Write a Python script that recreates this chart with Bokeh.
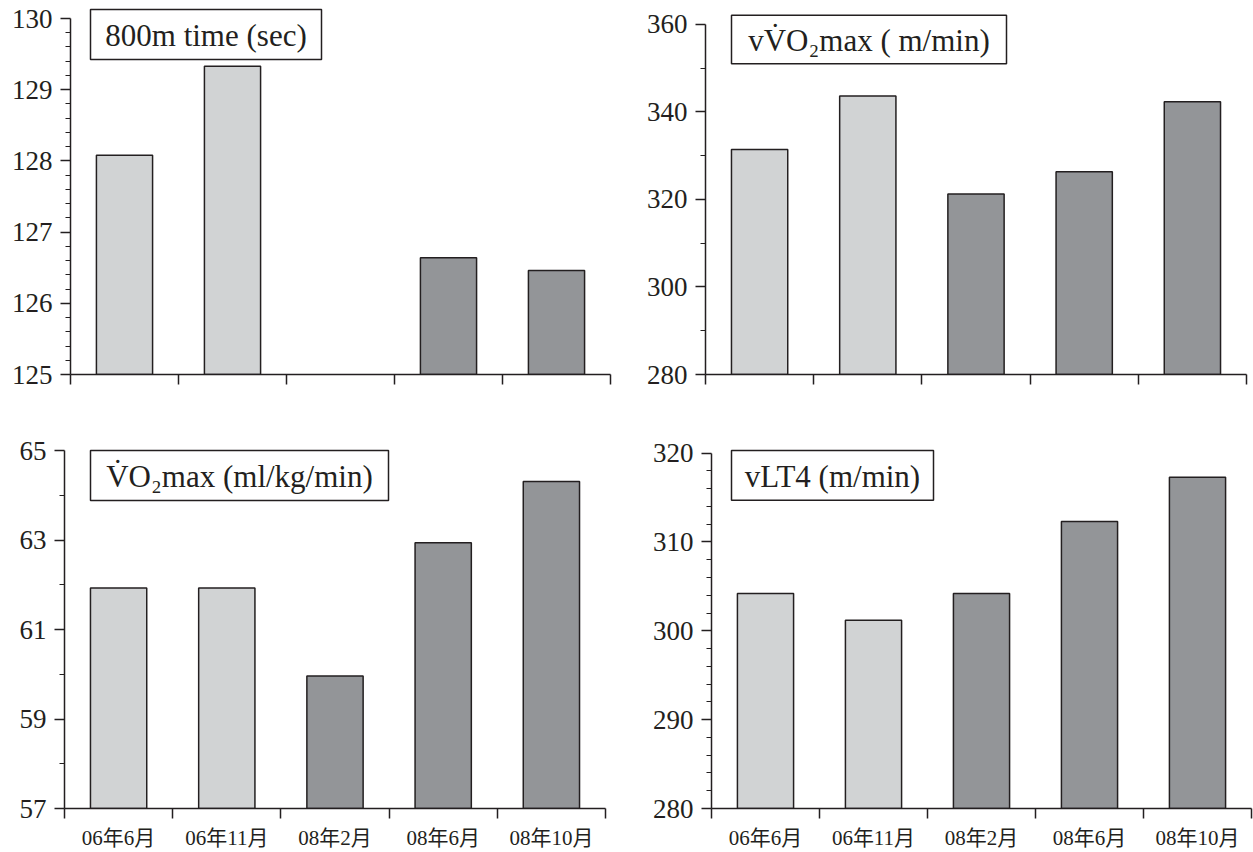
from bokeh.plotting import figure
from bokeh.models import Range1d, FixedTicker, BoxAnnotation, Label, ColumnDataSource
from bokeh.layouts import column, row
from bokeh.embed import file_html
from bokeh.resources import INLINE

# ---------------- data ----------------
periods = ["06年6月", "06年11月", "08年2月", "08年6月", "08年10月"]
time_800m = [128.08, 129.33, None, 126.64, 126.46]
vvo2max = [331.4, 343.6, 321.2, 326.3, 342.3]
vo2max = [61.93, 61.93, 59.96, 62.94, 64.31]
vlt4 = [304.2, 301.2, 304.2, 312.3, 317.3]

ticks_800m = [125, 126, 127, 128, 129, 130]
ticks_vvo2 = [280, 300, 320, 340, 360]
ticks_vo2 = [57, 59, 61, 63, 65]
ticks_vlt4 = [280, 290, 300, 310, 320]

title_800m = "800m time (sec)"
title_vvo2 = "vV\u0307O\u2082max ( m/min)"
title_vo2 = "V\u0307O\u2082max (ml/kg/min)"
title_vlt4 = "vLT4 (m/min)"

# ---------------- style ----------------
INK = "#231f20"
LIGHT = "#d1d3d4"
DARK = "#939598"
SERIF = "Liberation Serif, Noto Sans CJK JP"


def bar_color(label):
    return LIGHT if label.startswith("06") else DARK


def make_panel(values, title, ticks, minor, L, show_labels):
    lo, hi = ticks[0], ticks[-1]
    ox, oy, w, h = L["ox"], L["oy"], L["w"], L["h"]
    fl, fr, ft, fb = L["fl"], L["fr"], L["ft"], L["fb"]
    py_lo, py_hi = L["py_lo"], L["py_hi"]
    upp = (hi - lo) / (py_lo - py_hi)  # units per pixel
    y_start = lo - (fb - py_lo) * upp
    y_end = hi + (py_hi - ft) * upp
    n = len(periods)

    p = figure(width=w, height=h, output_backend="svg", toolbar_location=None,
               x_range=Range1d(0, n), y_range=Range1d(y_start, y_end),
               min_border_left=fl - ox, min_border_right=ox + w - fr,
               min_border_top=ft - oy, min_border_bottom=oy + h - fb)
    p.outline_line_color = None
    p.xgrid.visible = False
    p.ygrid.visible = False
    p.background_fill_color = "white"
    p.border_fill_color = "white"

    xs, tops, cols = [], [], []
    for i, (lab, v) in enumerate(zip(periods, values)):
        if v is None:
            continue
        xs.append(i + 0.5)
        tops.append(v)
        cols.append(bar_color(lab))
    src = ColumnDataSource(dict(x=xs, top=tops, color=cols))
    p.vbar(x="x", top="top", bottom=lo, width=0.52, source=src,
           fill_color="color", line_color=INK, line_width=1.5)

    # y axis
    minors = []
    for a, b in zip(ticks[:-1], ticks[1:]):
        step = (b - a) / minor
        minors += [a + k * step for k in range(1, minor)]
    ya = p.yaxis[0]
    ya.ticker = FixedTicker(ticks=ticks, minor_ticks=minors)
    ya.bounds = (lo, hi)
    ya.axis_line_color = INK
    ya.axis_line_width = 1.5
    ya.major_tick_line_color = INK
    ya.major_tick_line_width = 1.5
    ya.minor_tick_line_color = INK
    ya.minor_tick_line_width = 1.2
    ya.major_tick_in = 0
    ya.major_tick_out = 10
    ya.minor_tick_in = 0
    ya.minor_tick_out = 5
    ya.major_label_text_font = SERIF
    ya.major_label_text_font_size = "27px"
    ya.major_label_text_color = INK
    ya.major_label_standoff = 8

    # x axis: category boundaries as minor ticks, labels at centres
    xa = p.xaxis[0]
    centers = [i + 0.5 for i in range(n)]
    if show_labels:
        xa.ticker = FixedTicker(ticks=centers, minor_ticks=list(range(n + 1)))
        xa.major_label_overrides = {c: lab for c, lab in zip(centers, periods)}
    else:
        xa.ticker = FixedTicker(ticks=[], minor_ticks=list(range(n + 1)))
    xa.axis_line_color = INK
    xa.axis_line_width = 1.5
    xa.major_tick_in = 0
    xa.major_tick_out = 0
    xa.major_tick_line_color = None
    xa.minor_tick_in = 0
    xa.minor_tick_out = 10
    xa.minor_tick_line_color = INK
    xa.minor_tick_line_width = 1.5
    xa.major_label_text_font = SERIF
    xa.major_label_text_color = INK
    xa.major_label_text_font_size = "21px"
    xa.major_label_standoff = 7

    # title box (pixel layout converted into plot coordinates)
    bx0, bx1, by0, by1 = L["box"]
    xpp = n / (fr - fl)

    def X(px):
        return (px - fl) * xpp

    def Y(py):
        return y_end - (py - ft) * upp

    p.add_layout(BoxAnnotation(left=X(bx0), right=X(bx1), top=Y(by0), bottom=Y(by1),
                               fill_color="white", fill_alpha=1.0,
                               line_color=INK, line_width=1.5, line_alpha=1.0))
    p.add_layout(Label(x=X((bx0 + bx1) / 2), y=Y((by0 + by1) / 2 + 1), text=title,
                       text_align="center", text_baseline="middle",
                       text_font=SERIF, text_font_size="31px", text_color=INK))
    return p


L_tl = dict(ox=0, oy=0, w=640, h=420, fl=70, fr=610, ft=4, fb=374, py_lo=374, py_hi=18,
            box=(90, 321, 9, 59))
L_tr = dict(ox=640, oy=0, w=613, h=420, fl=705, fr=1246, ft=4, fb=379, py_lo=379, py_hi=24,
            box=(731, 1006, 15, 64))
L_bl = dict(ox=0, oy=420, w=640, h=432, fl=64, fr=605, ft=440, fb=808, py_lo=808, py_hi=450,
            box=(90, 388, 450, 500))
L_br = dict(ox=640, oy=420, w=613, h=432, fl=711, fr=1251, ft=440, fb=809, py_lo=809, py_hi=452.7,
            box=(731, 933, 450, 500))

p1 = make_panel(time_800m, title_800m, ticks_800m, 5, L_tl, False)
p2 = make_panel(vvo2max, title_vvo2, ticks_vvo2, 2, L_tr, False)
p3 = make_panel(vo2max, title_vo2, ticks_vo2, 2, L_bl, True)
p4 = make_panel(vlt4, title_vlt4, ticks_vlt4, 5, L_br, True)

layout = column(row(p1, p2, spacing=0), row(p3, p4, spacing=0), spacing=0)

with open("out.html", "w") as f:
    f.write(file_html(layout, INLINE))
